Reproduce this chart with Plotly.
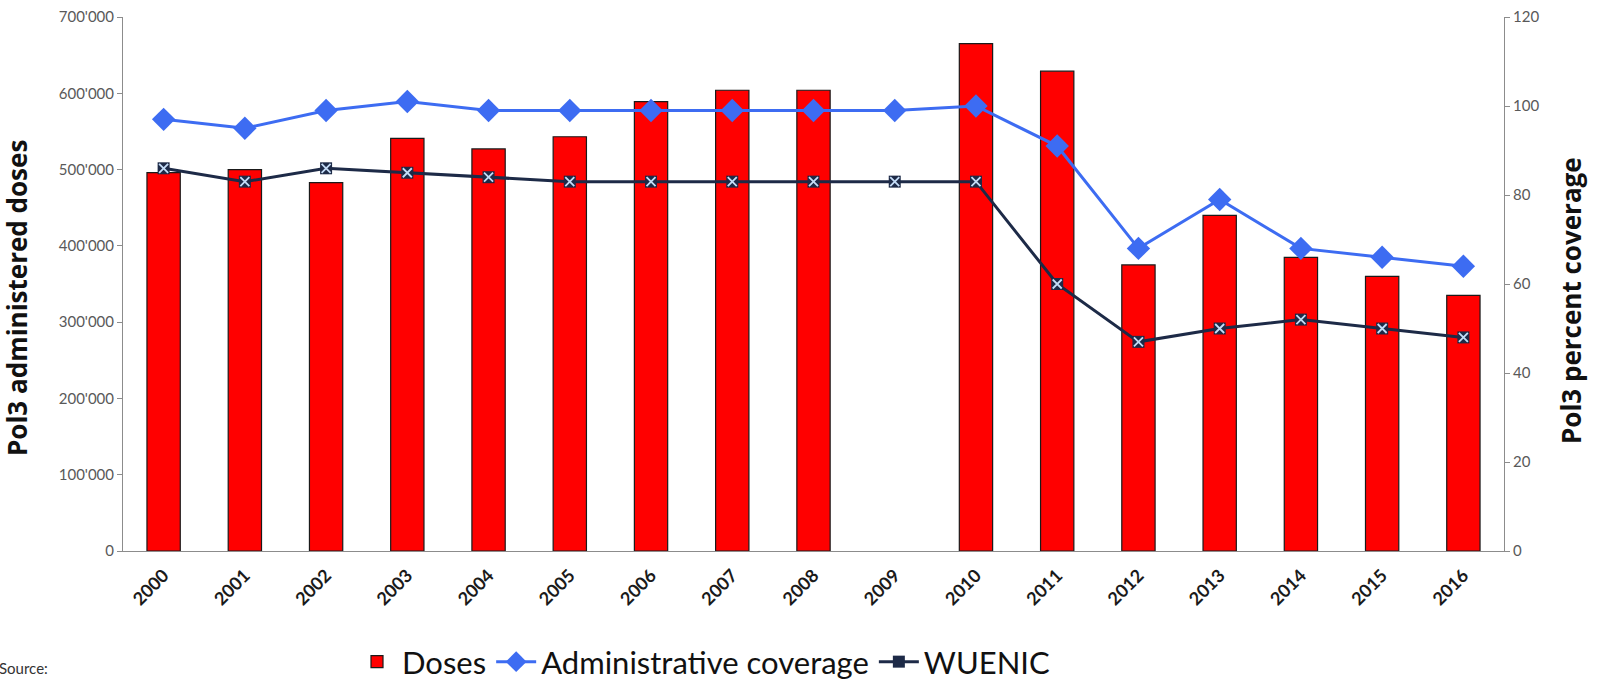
import plotly.graph_objects as go

# Pol3 immunisation data by year
years = [str(y) for y in range(2000, 2017)]
doses = [496000, 500000, 483000, 541000, 527000, 543000, 589000, 604000, 604000,
         None, 665000, 629000, 375000, 440000, 385000, 360000, 335000]
admin_coverage = [97, 95, 99, 101, 99, 99, 99, 99, 99, 99, 100, 91, 68, 79, 68, 66, 64]
wuenic = [86, 83, 86, 85, 84, 83, 83, 83, 83, 83, 83, 60, 47, 50, 52, 50, 48]

left_ticks = [0, 100000, 200000, 300000, 400000, 500000, 600000, 700000]
right_ticks = [0, 20, 40, 60, 80, 100, 120]

FONT = "Lato"
TITLE_FONT = "Open Sans"
AXIS_GREY = "#8c8c8c"
TICK_GREY = "#595959"

fig = go.Figure()

fig.add_trace(go.Bar(
    x=years, y=doses, name="Doses",
    marker=dict(color="#ff0000", line=dict(color="#1a1a1a", width=1.2)),
    yaxis="y",
))

fig.add_trace(go.Scatter(
    x=years, y=admin_coverage, name="Administrative coverage",
    mode="lines+markers",
    line=dict(color="#3d6cf2", width=3),
    marker=dict(symbol="diamond", size=18, color="#3d6cf2"),
    yaxis="y2",
))

fig.add_trace(go.Scatter(
    x=years, y=wuenic, name="WUENIC",
    mode="lines+markers",
    line=dict(color="#1d2a47", width=3),
    marker=dict(symbol="square", size=12, color="#1d2a47"),
    yaxis="y2",
))

# light cross drawn on top of each WUENIC square
fig.add_trace(go.Scatter(
    x=years, y=wuenic, mode="markers", showlegend=False, hoverinfo="skip",
    marker=dict(symbol="x-thin-open", size=9, color="#c4dcf7",
                line=dict(color="#c4dcf7", width=1.8)),
    yaxis="y2",
))

# plot area: x 123..1504 px, y 17..551 px
fig.update_layout(
    width=1600, height=685,
    paper_bgcolor="white", plot_bgcolor="white",
    margin=dict(l=123, r=96, t=17, b=134, autoexpand=False),
    separators=".'",
    bargap=0.59,
    font=dict(family=FONT, color="#222222"),
    showlegend=True,
    legend=dict(
        orientation="h", xref="container", yref="container",
        x=0.22, xanchor="left", y=1 - 662 / 685, yanchor="middle",
        font=dict(family=FONT, size=31, color="#111111"),
        itemwidth=40, tracegroupgap=0, bgcolor="rgba(0,0,0,0)",
    ),
    xaxis=dict(
        type="category", automargin=False,
        range=[-0.5, len(years) - 0.5],
        showline=True, linecolor=AXIS_GREY, linewidth=1,
        ticks="", tickangle=-45, ticklabelstandoff=6,
        tickfont=dict(family=FONT, size=18, color="#1a1a1a", weight="bold"),
        showgrid=False, zeroline=False,
    ),
    yaxis=dict(
        range=[0, 700000], tickvals=left_ticks, tickformat=",d", automargin=False,
        showline=True, linecolor=AXIS_GREY, linewidth=1,
        ticks="outside", ticklen=5, tickcolor=AXIS_GREY,
        tickfont=dict(family=FONT, size=15, color=TICK_GREY),
        showgrid=False, zeroline=False,
    ),
    yaxis2=dict(
        range=[0, 120], tickvals=right_ticks, overlaying="y", side="right", automargin=False,
        showline=True, linecolor=AXIS_GREY, linewidth=1,
        ticks="outside", ticklen=5, tickcolor=AXIS_GREY,
        tickfont=dict(family=FONT, size=15, color=TICK_GREY),
        showgrid=False, zeroline=False,
    ),
    annotations=[
        dict(text="<b>Pol3 administered doses</b>", xref="paper", yref="paper",
             x=0, y=(551 - 298) / 534, xanchor="center", yanchor="middle",
             xshift=-106, textangle=-90, showarrow=False,
             font=dict(family=TITLE_FONT, size=26, color="#111111")),
        dict(text="<b>Pol3 percent coverage</b>", xref="paper", yref="paper",
             x=1, y=(551 - 301) / 534, xanchor="center", yanchor="middle",
             xshift=67, textangle=-90, showarrow=False,
             font=dict(family=TITLE_FONT, size=26, color="#111111")),
        dict(text="Source:", xref="paper", yref="paper", x=0, y=-(668 - 551) / 534,
             xanchor="left", yanchor="middle", xshift=-126, showarrow=False,
             font=dict(family=FONT, size=15, color="#333333")),
    ],
)

fig.write_html("out.html")
